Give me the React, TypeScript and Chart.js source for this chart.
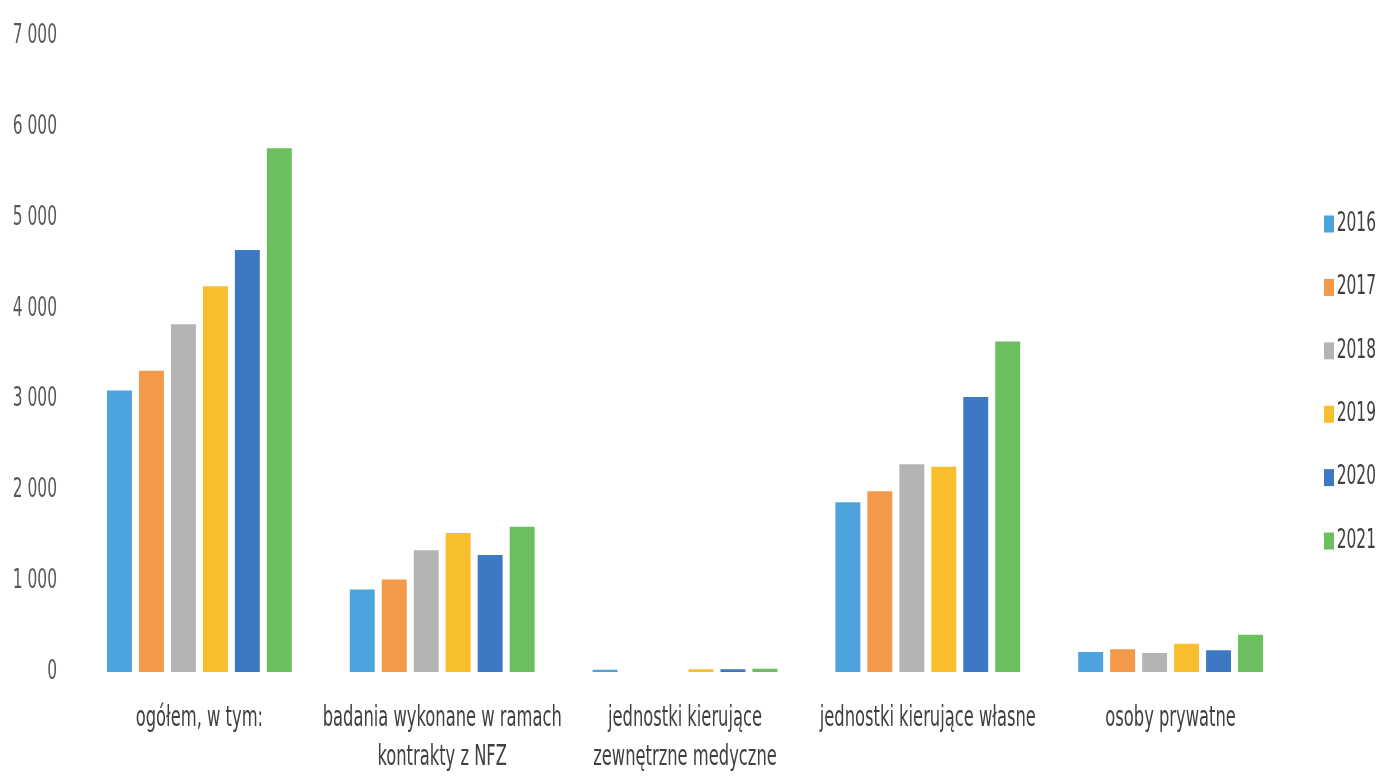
import React, { useEffect, useRef } from "react";
import { Chart, registerables } from "chart.js";

Chart.register(...registerables);

const categories: (string | string[])[] = [
  "ogółem, w tym:",
  ["badania wykonane w ramach", "kontrakty z NFZ"],
  ["jednostki kierujące", "zewnętrzne medyczne"],
  "jednostki kierujące własne",
  "osoby prywatne",
];

const years = ["2016", "2017", "2018", "2019", "2020", "2021"];

const values2016 = [3100, 910, 25, 1870, 220];
const values2017 = [3320, 1020, null, 1990, 250];
const values2018 = [3830, 1340, null, 2290, 210];
const values2019 = [4250, 1530, 30, 2260, 310];
const values2020 = [4650, 1290, 30, 3030, 240];
const values2021 = [5770, 1600, 35, 3640, 410];

const seriesValues = [values2016, values2017, values2018, values2019, values2020, values2021];
const seriesColors = ["#4DA3DD", "#F3994A", "#B4B4B4", "#F9BE2D", "#3D78C2", "#6CBF5F"];

const yTicks = [0, 1000, 2000, 3000, 4000, 5000, 6000, 7000];

const FONT = "'DejaVu Sans Condensed', 'DejaVu Sans', sans-serif";
const TEXT_SCALE_X = 0.66;

function formatThousands(v: number): string {
  const s = String(Math.round(v));
  return s.replace(/\B(?=(\d{3})+(?!\d))/g, " ");
}

// Draws all chart text horizontally condensed (tall, narrow lettering as in the reference).
const narrowTextPlugin = {
  id: "narrowText",
  beforeInit(chart: any) {
    const ctx = chart.ctx as CanvasRenderingContext2D;
    const orig = ctx.fillText.bind(ctx);
    (ctx as any).fillText = (text: string, x: number, y: number, maxWidth?: number) => {
      ctx.save();
      ctx.translate(x, y);
      ctx.scale(TEXT_SCALE_X, 1);
      if (maxWidth !== undefined && maxWidth !== null) orig(text, 0, 0, maxWidth / TEXT_SCALE_X);
      else orig(text, 0, 0);
      ctx.restore();
    };
  },
};

export default function App() {
  const canvasRef = useRef<HTMLCanvasElement | null>(null);

  useEffect(() => {
    const canvas = canvasRef.current;
    if (!canvas) return;
    const chart = new Chart(canvas, {
      type: "bar",
      plugins: [narrowTextPlugin],
      data: {
        labels: categories,
        datasets: years.map((y, i) => ({
          label: y,
          data: seriesValues[i],
          backgroundColor: seriesColors[i],
          borderWidth: 0,
          categoryPercentage: 0.79,
          barPercentage: 0.78,
        })),
      },
      options: {
        animation: false,
        responsive: false,
        layout: { padding: { top: 32, bottom: 0, left: 0, right: 8 } },
        plugins: {
          tooltip: { enabled: false },
          legend: {
            position: "right",
            align: "start",
            maxWidth: 84,
            title: {
              display: true,
              text: "",
              font: { size: 10, lineHeight: 1 },
              padding: { top: 137, bottom: 0 },
            },
            labels: {
              boxWidth: 10,
              boxHeight: 17,
              padding: 32,
              color: "#404040",
              textAlign: "right",
              font: { family: FONT, size: 26, lineHeight: 1.208 },
              generateLabels: (ch: any) =>
                ch.data.datasets.map((ds: any, i: number) => ({
                  text: [ds.label],
                  fillStyle: ds.backgroundColor,
                  strokeStyle: ds.backgroundColor,
                  lineWidth: 0,
                  hidden: false,
                  datasetIndex: i,
                  fontColor: "#404040",
                })),
            },
          },
        },
        scales: {
          x: {
            grid: { display: false, drawTicks: false },
            border: { display: false },
            ticks: {
              color: "#404040",
              padding: 27,
              maxRotation: 0,
              autoSkip: false,
              font: { family: FONT, size: 27.5, lineHeight: 1.42 },
            },
            afterFit: (s: any) => {
              s.height = 104;
            },
          },
          y: {
            min: 0,
            max: 7000,
            grid: { display: false, drawTicks: false },
            border: { display: false },
            afterBuildTicks: (s: any) => {
              s.ticks = yTicks.map((v) => ({ value: v }));
            },
            ticks: {
              color: "#595959",
              padding: 21,
              font: { family: FONT, size: 26 },
              callback: (v: any) => formatThousands(Number(v)),
            },
            afterFit: (s: any) => {
              s.width = 78;
            },
          },
        },
      },
    });
    return () => chart.destroy();
  }, []);

  return (
    <div style={{ position: "fixed", left: 0, top: 0, width: 1384, height: 776, background: "#fff" }}>
      <canvas ref={canvasRef} width={1384} height={776} style={{ display: "block" }} />
    </div>
  );
}
